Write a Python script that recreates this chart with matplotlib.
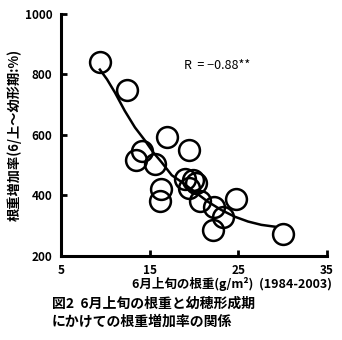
import numpy as np
import matplotlib.pyplot as plt

plt.rcParams['font.family'] = ['Noto Sans CJK JP', 'DejaVu Sans']

# 6月上旬の根重 (g/m2) と根重増加率 (%), 1984-2003
root_weight = [9.4, 12.4, 17.0, 19.4, 14.1, 13.5, 15.6, 16.3, 16.2,
               19.0, 19.9, 19.5, 20.7, 22.3, 24.8, 23.3, 22.2, 30.0, 20.2]
increase_rate = [840, 750, 592, 552, 548, 518, 505, 420, 383,
                 455, 450, 425, 383, 363, 390, 330, 285, 272, 440]

# 回帰曲線
curve_x = [9.4, 10.2, 11.1, 12.2, 13.35, 14.5, 15.4, 16.35, 17.5, 18.6,
           20.1, 21.6, 23.1, 24.6, 26.1, 27.6, 29.1]
curve_y = [816, 784, 740, 680, 625, 581, 543, 510, 467, 445,
           412, 379, 352, 330, 314, 303, 297]

x_ticks = [5, 15, 25, 35]
y_ticks = [200, 400, 600, 800, 1000]

fig = plt.figure(figsize=(3.42, 3.40), dpi=100)
ax = fig.add_axes([0.178, 0.247, 0.778, 0.712])

ax.plot(curve_x, curve_y, color='black', linewidth=1.8, zorder=2)
ax.plot(root_weight, increase_rate, 'o', markersize=15, markerfacecolor='none',
        markeredgecolor='black', markeredgewidth=1.8, zorder=3)

ax.text(18.9, 828, 'R  = \u22120.88**', fontsize=9, va='center', ha='left')

ax.set_xlim(5, 35)
ax.set_ylim(200, 1000)
ax.set_xticks(x_ticks)
ax.set_yticks(y_ticks)
ax.tick_params(direction='in', length=4, width=2, labelsize=8.5)
ax.tick_params(axis='x', pad=6)
ax.tick_params(axis='y', pad=6)
for lab in ax.get_xticklabels() + ax.get_yticklabels():
    lab.set_fontweight('bold')

for s in ['top', 'right']:
    ax.spines[s].set_visible(False)
for s in ['left', 'bottom']:
    ax.spines[s].set_linewidth(2.2)

ax.set_ylabel('根重増加率(6/上～幼形期:%)', fontsize=9.5, fontweight='bold', labelpad=2)

fig.text(0.972, 0.166, '6月上旬の根重(g/m²)  (1984-2003)', fontsize=9,
         fontweight='bold', ha='right', va='center')
fig.text(0.152, 0.108, '図2  6月上旬の根重と幼穂形成期', fontsize=10,
         fontweight='bold', ha='left', va='center')
fig.text(0.152, 0.053, 'にかけての根重増加率の関係', fontsize=10,
         fontweight='bold', ha='left', va='center')

fig.savefig('out.png', dpi=100)
